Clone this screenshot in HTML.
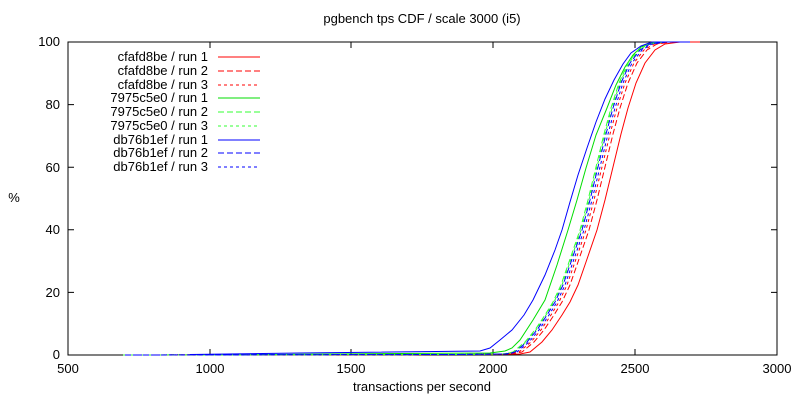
<!DOCTYPE html>
<html><head><style>body{margin:0;background:#fff}svg{display:block}text{font-family:"Liberation Sans",sans-serif;font-size:13px;fill:#000}</style></head><body>
<svg width="800" height="400" viewBox="0 0 800 400">
<rect x="68" y="42" width="709" height="313" fill="none" stroke="#000" stroke-width="1"/>
<g stroke="#000" stroke-width="1">
<path d="M68 355h6M777 355h-6M68 292.4h6M777 292.4h-6M68 229.8h6M777 229.8h-6M68 167.2h6M777 167.2h-6M68 104.6h6M777 104.6h-6M68 42h6M777 42h-6"/>
<path d="M210 355v-6M210 42v6M351 355v-6M351 42v6M493 355v-6M493 42v6M635 355v-6M635 42v6"/>
</g>
<g text-anchor="end">
<text x="60" y="359">0</text><text x="60" y="297">20</text><text x="60" y="234">40</text><text x="60" y="172">60</text><text x="60" y="109">80</text><text x="60" y="46">100</text>
</g>
<g text-anchor="middle">
<text x="68" y="373">500</text><text x="210" y="373">1000</text><text x="351" y="373">1500</text><text x="493" y="373">2000</text><text x="635" y="373">2500</text><text x="777" y="373">3000</text>
<text x="422" y="391">transactions per second</text>
<text x="422" y="23">pgbench tps CDF / scale 3000 (i5)</text>
<text x="14" y="202">%</text>
</g>
<defs>
<polyline id="r" fill="none" points="140,355 470,354.5 520,354 530,352 542,342 552,330 562,315 570,302 578,285 586,262 597,230 605,200 613,167 621,134 628,108 636,83 645,63 655,50 665,44 680,42 700,42"/>
<polyline id="b" fill="none" points="190,354.5 300,353 480,351 490,348 500,340 512,330 524,315 533,300 545,275 555,250 562,230 570,202 578,175 587,148 596,122 605,99 614,80 623,64 631,53 641,46 652,42 690,42"/>
<polyline id="g" fill="none" points="200,355 400,353.5 490,353 505,351 512,348 520,340 533,320 545,300 557,265 568,230 577,200 586,168 596,135 607,108 616,85 625,67 633,55 641,47 651,43 665,42 690,42"/>
</defs>
<g stroke-width="1">
<use href="#r" stroke="#f00"/>
<use href="#r" stroke="#f00" stroke-dasharray="6,3" transform="translate(-8,0)"/>
<use href="#r" stroke="#f00" stroke-dasharray="3,3" transform="translate(-11,0)"/>
<use href="#g" stroke="#0d0"/>
<use href="#r" stroke="#3f3" stroke-dasharray="6,3" transform="translate(-17,0)"/>
<use href="#r" stroke="#3f3" stroke-dasharray="3,3" transform="translate(-16,0)"/>
<use href="#b" stroke="#00f"/>
<use href="#r" stroke="#00f" stroke-dasharray="6,3" transform="translate(-15,0)"/>
<use href="#r" stroke="#00f" stroke-dasharray="3,3" transform="translate(-13,0)"/>
</g>
<g text-anchor="end">
<text x="208" y="61">cfafd8be / run 1</text>
<text x="208" y="75">cfafd8be / run 2</text>
<text x="208" y="89">cfafd8be / run 3</text>
<text x="208" y="102">7975c5e0 / run 1</text>
<text x="208" y="116">7975c5e0 / run 2</text>
<text x="208" y="130">7975c5e0 / run 3</text>
<text x="208" y="144">db76b1ef / run 1</text>
<text x="208" y="157">db76b1ef / run 2</text>
<text x="208" y="171">db76b1ef / run 3</text>
</g>
<g stroke-width="1">
<path d="M218 57h42" stroke="#f00"/>
<path d="M218 71h42" stroke="#f00" stroke-dasharray="6,3"/>
<path d="M218 85h42" stroke="#f00" stroke-dasharray="3,3"/>
<path d="M218 98h42" stroke="#0d0"/>
<path d="M218 112h42" stroke="#3f3" stroke-dasharray="6,3"/>
<path d="M218 126h42" stroke="#3f3" stroke-dasharray="3,3"/>
<path d="M218 140h42" stroke="#00f"/>
<path d="M218 153h42" stroke="#00f" stroke-dasharray="6,3"/>
<path d="M218 167h42" stroke="#00f" stroke-dasharray="3,3"/>
</g>
</svg>
</body></html>
